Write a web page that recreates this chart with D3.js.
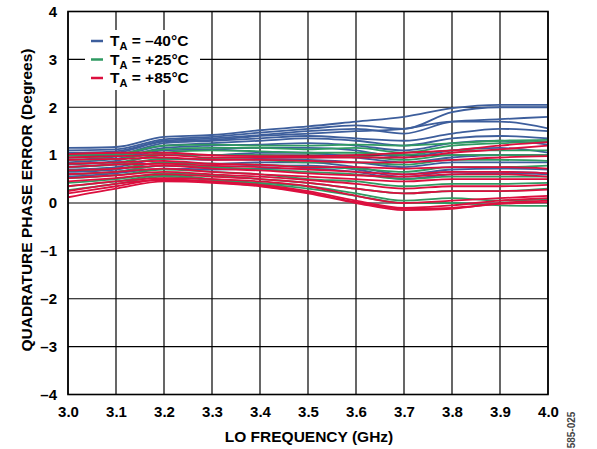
<!DOCTYPE html>
<html><head><meta charset="utf-8">
<script src="https://cdn.jsdelivr.net/npm/d3@7"></script>
<style>body{margin:0;background:#fff}svg{display:block}text{font-family:"Liberation Sans",Arial,sans-serif;font-weight:bold}</style>
</head><body>
<script>
const freqs = [3.0,3.1,3.2,3.3,3.4,3.5,3.6,3.7,3.8,3.9,4.0];
const xTicks = [3.0,3.1,3.2,3.3,3.4,3.5,3.6,3.7,3.8,3.9,4.0];
const yTicks = [-4,-3,-2,-1,0,1,2,3,4];
const seriesBlue = [
 [1.15,1.17,1.38,1.42,1.52,1.6,1.7,1.8,1.98,2.05,2.05],
 [1.1,1.12,1.33,1.38,1.47,1.55,1.62,1.55,1.9,2.0,2.0],
 [1.05,1.08,1.3,1.35,1.42,1.5,1.55,1.45,1.7,1.75,1.8],
 [1.0,1.05,1.28,1.32,1.4,1.45,1.5,1.55,1.7,1.7,1.56],
 [0.95,1.0,1.25,1.3,1.35,1.4,1.35,1.3,1.45,1.55,1.5],
 [0.9,0.97,1.2,1.25,1.3,1.35,1.3,1.2,1.35,1.4,1.35],
 [0.85,0.92,1.15,1.2,1.22,1.25,1.2,1.1,1.25,1.3,1.22],
 [0.8,0.88,1.1,1.12,1.15,1.15,1.1,0.95,1.1,1.15,1.05],
 [0.75,0.82,1.0,1.0,1.05,1.05,0.95,0.85,0.95,1.0,0.98],
 [0.7,0.75,0.92,0.9,0.92,0.9,0.85,0.75,0.85,0.85,0.85],
 [0.65,0.7,0.85,0.82,0.85,0.85,0.75,0.6,0.7,0.72,0.7],
 [0.6,0.65,0.78,0.75,0.78,0.78,0.7,0.55,0.65,0.65,0.62],
 [0.55,0.62,0.72,0.7,0.72,0.72,0.65,0.5,0.6,0.62,0.6]
];
const seriesGreen = [
 [1.0,1.02,1.2,1.22,1.2,1.2,1.22,1.2,1.25,1.3,1.32],
 [0.95,0.98,1.12,1.15,1.15,1.12,1.15,1.05,1.2,1.25,1.28],
 [0.9,0.92,1.05,1.1,1.08,1.05,1.05,1.0,1.1,1.1,1.1],
 [0.82,0.85,1.0,1.0,1.0,0.95,0.98,0.9,1.0,1.0,1.0],
 [0.75,0.8,0.92,0.92,0.9,0.85,0.85,0.8,0.9,0.9,0.88],
 [0.68,0.72,0.85,0.82,0.8,0.75,0.72,0.65,0.75,0.75,0.78],
 [0.6,0.65,0.78,0.75,0.7,0.65,0.6,0.5,0.55,0.55,0.55],
 [0.52,0.58,0.7,0.65,0.6,0.5,0.45,0.35,0.4,0.4,0.42],
 [0.42,0.5,0.62,0.58,0.5,0.42,0.3,0.2,0.25,0.25,0.3],
 [0.35,0.45,0.58,0.5,0.42,0.35,0.2,0.05,0.1,0.05,0.08],
 [0.27,0.4,0.55,0.48,0.4,0.3,0.15,0.0,0.0,-0.05,-0.06]
];
const seriesRed = [
 [1.02,1.05,1.05,1.0,0.98,0.98,1.0,1.05,1.1,1.2,1.27],
 [0.95,0.98,1.0,0.95,0.95,0.95,0.95,0.95,1.05,1.12,1.2],
 [0.9,0.92,0.95,0.9,0.9,0.88,0.85,0.85,0.9,0.95,0.98],
 [0.82,0.85,0.88,0.82,0.8,0.75,0.75,0.72,0.75,0.75,0.72],
 [0.75,0.8,0.82,0.78,0.75,0.7,0.65,0.6,0.65,0.65,0.62],
 [0.68,0.72,0.78,0.72,0.68,0.62,0.58,0.55,0.6,0.6,0.55],
 [0.6,0.65,0.72,0.65,0.6,0.55,0.5,0.45,0.5,0.5,0.5],
 [0.52,0.58,0.65,0.6,0.55,0.48,0.4,0.3,0.35,0.35,0.38],
 [0.45,0.52,0.6,0.55,0.5,0.42,0.3,0.2,0.25,0.25,0.28],
 [0.35,0.45,0.52,0.5,0.45,0.35,0.15,0.0,0.05,0.1,0.15],
 [0.25,0.4,0.48,0.45,0.38,0.25,0.05,-0.1,-0.05,0.05,0.1],
 [0.2,0.35,0.5,0.44,0.36,0.22,0.02,-0.12,-0.1,-0.02,0.02],
 [0.12,0.3,0.45,0.42,0.35,0.2,0.0,-0.15,-0.12,0.0,0.05]
];
const groups = [
 {label:" = –40°C", color:"#3d5e9c", data:seriesBlue},
 {label:" = +25°C", color:"#2f9a62", data:seriesGreen},
 {label:" = +85°C", color:"#dc0f3e", data:seriesRed}
];

const W=597,H=449;
const L=68,R=548,T=11.5,B=394.5;
const svg=d3.select("body").append("svg").attr("width",W).attr("height",H);
const x=d3.scaleLinear().domain([3.0,4.0]).range([L,R]);
const y=d3.scaleLinear().domain([-4,4]).range([B,T]);
const FF="'Liberation Sans',Arial,sans-serif";

// grid
svg.append("g").selectAll("line").data(xTicks).join("line")
 .attr("x1",d=>x(d)).attr("x2",d=>x(d)).attr("y1",T).attr("y2",B)
 .attr("stroke","#000").attr("stroke-width",1.2);
svg.append("g").selectAll("line").data(yTicks).join("line")
 .attr("y1",d=>y(d)).attr("y2",d=>y(d)).attr("x1",L).attr("x2",R)
 .attr("stroke","#000").attr("stroke-width",1.2);

// legend background
svg.append("rect").attr("x",85).attr("y",30).attr("width",115).attr("height",60).attr("fill","#fff");

// curves
const line=d3.line().x((d,i)=>x(freqs[i])).y(d=>y(d)).curve(d3.curveMonotoneX);
svg.append("defs").append("clipPath").attr("id","cp").append("rect")
 .attr("x",L).attr("y",T).attr("width",R-L).attr("height",B-T);
const gl=svg.append("g").attr("clip-path","url(#cp)");
groups.forEach(g=>{
 gl.append("g").selectAll("path").data(g.data).join("path")
  .attr("d",line).attr("fill","none").attr("stroke",g.color).attr("stroke-width",1.8);
});

// border
svg.append("rect").attr("x",L).attr("y",T).attr("width",R-L).attr("height",B-T)
 .attr("fill","none").attr("stroke","#000").attr("stroke-width",1.6);

// axes labels
const xa=d3.axisBottom(x).tickValues(xTicks).tickFormat(d3.format(".1f")).tickSize(0).tickPadding(12);
const gx=svg.append("g").attr("transform",`translate(0,${B})`).call(xa);
gx.select(".domain").remove();
gx.selectAll("text").attr("font-size",15).attr("font-weight","bold").attr("fill","#000").attr("font-family",FF);
const ya=d3.axisLeft(y).tickValues(yTicks).tickFormat(d=>d<0?"–"+Math.abs(d):d).tickSize(0).tickPadding(11);
const gy=svg.append("g").attr("transform",`translate(${L},0)`).call(ya);
gy.select(".domain").remove();
gy.selectAll("text").attr("font-size",15).attr("font-weight","bold").attr("fill","#000").attr("font-family",FF);

svg.append("text").attr("x",309).attr("y",442).attr("text-anchor","middle")
 .attr("font-size",15.5).text("LO FREQUENCY (GHz)");
svg.append("text").attr("transform",`translate(32,${200}) rotate(-90)`).attr("text-anchor","middle")
 .attr("font-size",15.5).text("QUADRATURE PHASE ERROR (Degrees)");
svg.append("text").attr("transform",`translate(575,430) rotate(-90)`).attr("text-anchor","middle")
 .attr("font-size",10).attr("font-weight","normal").attr("fill","#444").text("585-025");

// legend
groups.forEach((g,i)=>{
 const cy=41+i*18.5;
 svg.append("line").attr("x1",91).attr("x2",103).attr("y1",cy).attr("y2",cy)
  .attr("stroke",g.color).attr("stroke-width",2.5);
 const t=svg.append("text").attr("x",110).attr("y",cy+5).attr("font-size",15.5);
 t.append("tspan").text("T");
 t.append("tspan").attr("font-size",11).attr("dy",4).text("A");
 t.append("tspan").attr("dy",-4).text(g.label);
});
</script>
</body></html>
